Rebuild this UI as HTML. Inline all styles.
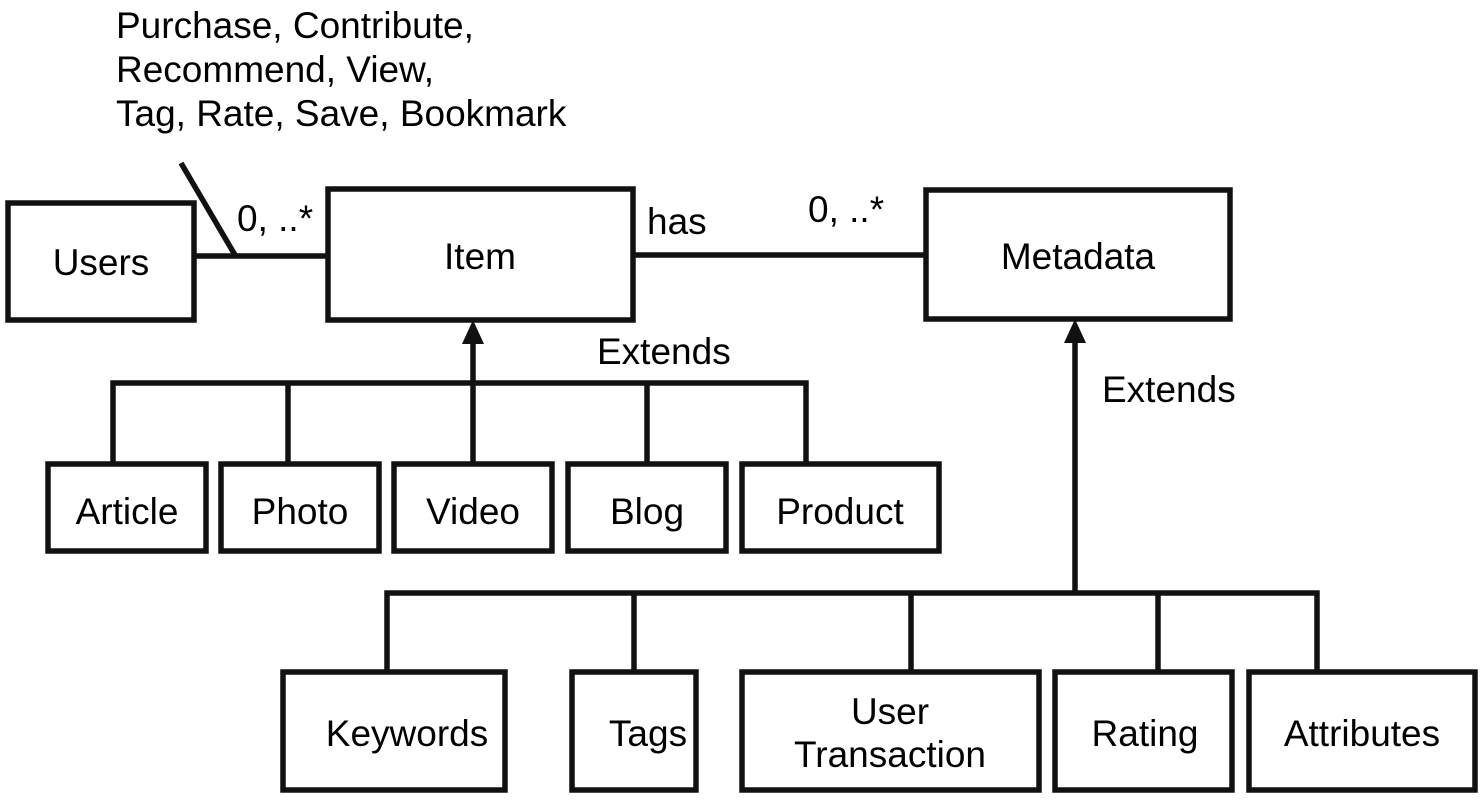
<!DOCTYPE html>
<html><head><style>body{margin:0;background:#fff}</style></head><body>
<svg width="1483" height="800" xmlns="http://www.w3.org/2000/svg" font-family="Liberation Sans, Arial, sans-serif" font-size="37" fill="#000">
<g fill="none" stroke="#111" stroke-width="5.5">
<rect x="8" y="203" width="186" height="117"/>
<rect x="328" y="189" width="305" height="131"/>
<rect x="926" y="190" width="304" height="129"/>
<line x1="194" y1="256" x2="328" y2="256"/>
<line x1="181" y1="163" x2="235" y2="255"/>
<line x1="633" y1="255" x2="926" y2="255"/>
<line x1="473" y1="340" x2="473" y2="462"/>
<polyline points="113,462 113,383 806,383 806,462"/>
<line x1="288" y1="383" x2="288" y2="462"/>
<line x1="647" y1="383" x2="647" y2="462"/>
<rect x="48" y="464" width="158" height="87"/>
<rect x="221" y="464" width="158" height="87"/>
<rect x="394" y="464" width="158" height="87"/>
<rect x="568" y="464" width="158" height="87"/>
<rect x="742" y="464" width="197" height="87"/>
<line x1="1075" y1="340" x2="1075" y2="593"/>
<polyline points="387,672 387,593 1317,593 1317,672"/>
<line x1="634" y1="593" x2="634" y2="672"/>
<line x1="911" y1="593" x2="911" y2="672"/>
<line x1="1158" y1="593" x2="1158" y2="672"/>
<rect x="283" y="672" width="222" height="118"/>
<rect x="572" y="672" width="124" height="118"/>
<rect x="742" y="672" width="297" height="118"/>
<rect x="1055" y="672" width="177" height="118"/>
<rect x="1249" y="672" width="226" height="118"/>
</g>
<polygon points="473,320 462,344 484,344" fill="#111"/>
<polygon points="1075,319 1064,343 1086,343" fill="#111"/>
<text x="116" y="38">Purchase, Contribute,</text>
<text x="116" y="82">Recommend, View,</text>
<text x="116" y="126">Tag, Rate, Save, Bookmark</text>
<text x="237" y="231">0, ..*</text>
<text x="647" y="234">has</text>
<text x="808" y="222">0, ..*</text>
<text x="597" y="364">Extends</text>
<text x="1102" y="402">Extends</text>
<g text-anchor="middle">
<text x="101" y="275">Users</text>
<text x="480" y="269">Item</text>
<text x="1078" y="269">Metadata</text>
<text x="127" y="524">Article</text>
<text x="300" y="524">Photo</text>
<text x="473" y="524">Video</text>
<text x="647" y="524">Blog</text>
<text x="840" y="524">Product</text>
<text x="407" y="746">Keywords</text>
<text x="648" y="746">Tags</text>
<text x="890" y="724">User</text>
<text x="890" y="767">Transaction</text>
<text x="1145" y="746">Rating</text>
<text x="1362" y="746">Attributes</text>
</g>
</svg>
</body></html>
